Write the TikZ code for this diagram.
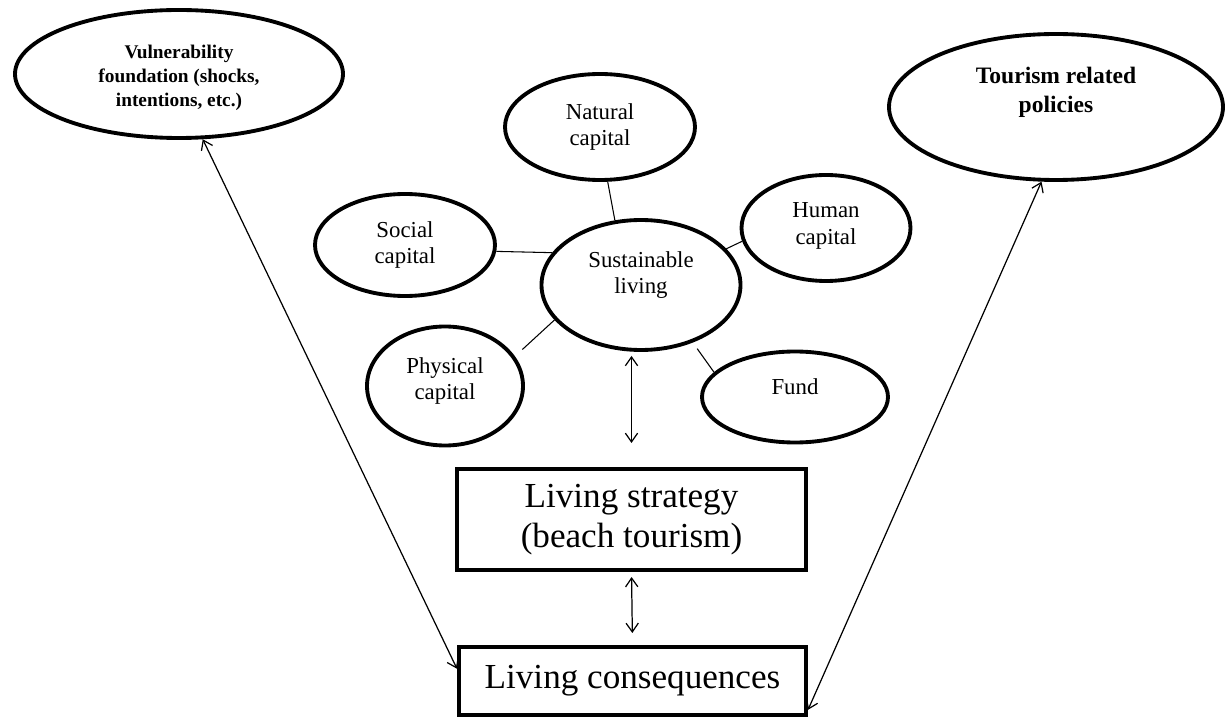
\documentclass[tikz,border=0pt]{standalone}
\usepackage{fontspec}
\setmainfont{Liberation Serif}
\newcommand\px{0.02cm}
\usetikzlibrary{shapes.geometric,arrows.meta,calc}
\tikzset{oval/.style={ellipse,draw=black,line width=2.2pt,inner sep=0pt}}
\tikzset{txt/.style={align=center,inner sep=0pt,font=\fontsize{13}{15}\selectfont}}
\tikzset{boldtxt/.style={align=center,inner sep=0pt,font=\bfseries\fontsize{11}{13.6}\selectfont}}
\tikzset{bigbox/.style={rectangle,draw=black,line width=2.3pt,inner sep=0pt,align=center,font=\fontsize{20}{23}\selectfont}}
\tikzset{link/.style={draw=black,line width=0.6pt}}
\tikzset{twoway/.style={draw=black,line width=0.7pt,{Straight Barb[length=5pt,width=7pt]}-{Straight Barb[length=5pt,width=7pt]}}}

\begin{document}
\begin{tikzpicture}[x=\px,y=-\px]
\useasboundingbox (0,0) rectangle (1227,719);
% outer influences
\node[oval, minimum width=328*\px, minimum height=128*\px, label={[boldtxt, yshift=-4*\px]center:{Vulnerability\\foundation (shocks,\\intentions, etc.)}}] (vul) at (179,74) {};
\node[oval, minimum width=334*\px, minimum height=146*\px, label={[boldtxt, font=\bfseries\fontsize{13.4}{16.4}\selectfont, yshift=15*\px]center:{Tourism related\\policies}}] (tour) at (1056,107) {};

% capitals round sustainable living
\node[oval, minimum width=199*\px, minimum height=130*\px, label={[txt, yshift=10*\px]center:{Sustainable\\living}}] (sus) at (641,285) {};
\node[oval, minimum width=190*\px, minimum height=106*\px, label={[txt]center:{Natural\\capital}}] (nat) at (600,127) {};
\node[oval, minimum width=180*\px, minimum height=102*\px, label={[txt]center:{Social\\capital}}] (soc) at (405,245) {};
\node[oval, minimum width=169*\px, minimum height=106*\px, label={[txt, yshift=2*\px]center:{Human\\capital}}] (hum) at (826,228) {};
\node[oval, minimum width=156*\px, minimum height=119*\px, label={[txt, yshift=5*\px]center:{Physical\\capital}}] (phy) at (445,386) {};
\node[oval, minimum width=186*\px, minimum height=91*\px, label={[txt, yshift=10*\px]center:{Fund}}] (fund) at (795,397) {};

\draw[link] (nat.278) -- (sus.112);
\draw[link] (soc.356) -- (sus.160);
\draw[link] (sus.23) -- (hum.189);
\draw[link, shorten >=0.2cm] (sus.202) -- (phy.23);
\draw[link, shorten <=0.15cm] (sus.312) -- (fund.163);

% strategy and outcome
\node[bigbox, minimum width=349*\px, minimum height=101*\px] (strat) at (631.5,519.5) {Living strategy\\(beach tourism)};
\node[bigbox, minimum width=347*\px, minimum height=68*\px] (cons) at (632.5,681) {Living consequences};

\draw[twoway, shorten <=0.08cm, shorten >=0.48cm] (sus.south -| strat.north) -- (strat.north);
\draw[twoway, shorten <=0.1cm, shorten >=0.24cm] (strat.south) -- (cons.north);
\draw[twoway] (vul.290) -- ($(cons.north west)!0.33!(cons.south west)$);
\draw[twoway] (tour.259) -- ($(cons.north east)!0.9!(cons.south east)$);
\end{tikzpicture}
\end{document}
